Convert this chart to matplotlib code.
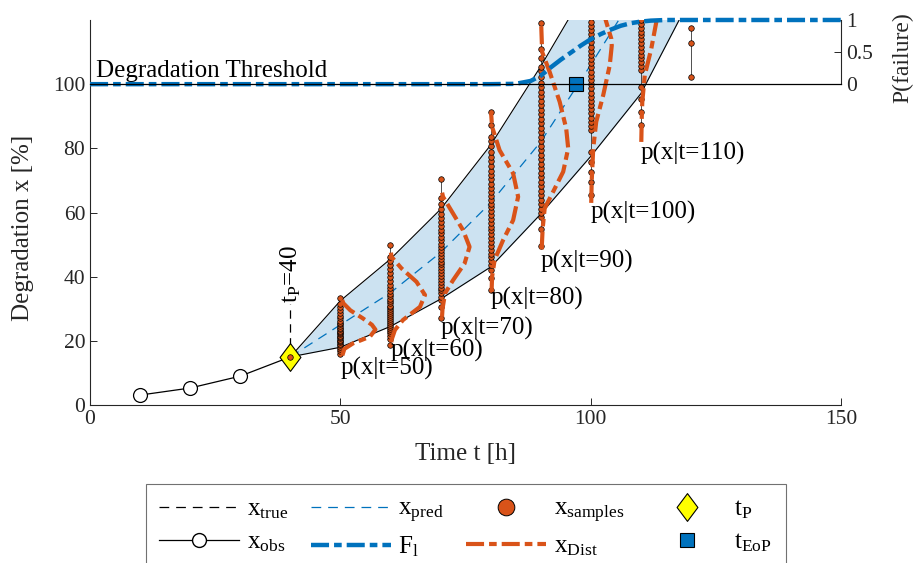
import matplotlib
matplotlib.use("Agg")
import matplotlib.pyplot as plt
from matplotlib.lines import Line2D
from matplotlib.path import Path

plt.rcParams['font.family'] = ['Liberation Serif', 'DejaVu Serif']
plt.rcParams['mathtext.fontset'] = 'custom'
plt.rcParams['mathtext.rm'] = 'Liberation Serif'
plt.rcParams['mathtext.it'] = 'Liberation Serif:italic'
plt.rcParams['font.size'] = 18
plt.rcParams['lines.scale_dashes'] = False

BLUE = '#0072BD'
ORANGE = '#D95319'
AXC = '0.15'
FS = 18      # text size for labels and annotations
TFS = 15.5   # tick label size

# observed degradation up to the prediction time
t_obs = [10, 20, 30, 40]
x_obs = [3.1, 5.3, 9.0, 15.0]
t_p = 40

# prediction band and mean prediction
t_band = [40, 50, 60, 70, 80, 90, 100, 110, 120]
x_upper = [15.0, 32.5, 45.5, 61.0, 81.0, 105.5, 132.0, 158.0, 185.0]
x_lower = [15.0, 18.0, 24.5, 33.0, 43.0, 59.5, 77.5, 97.0, 127.0]
t_pred = [40, 50, 60, 70, 80, 90, 100, 110]
x_pred = [15.0, 25.0, 35.0, 47.5, 63.0, 82.0, 106.0, 131.0]

# end of prediction (threshold crossing)
t_eop = 97
threshold = 100

# Monte Carlo samples at each prediction time
samples = {
    50: [16.0, 16.8, 17.5, 18.1, 18.6, 19.1, 19.6, 20.0, 20.4, 20.8, 21.2, 21.6,
         22.0, 22.4, 22.8, 23.2, 23.6, 24.1, 24.6, 25.1, 25.7, 26.3, 27.0, 27.8,
         28.6, 29.5, 30.5, 31.6, 33.3],
    60: [18.7, 20.5, 21.4, 22.4, 23.1, 23.8, 24.4, 25.0, 25.6, 26.2, 26.8, 27.4,
         28.0, 28.6, 29.2, 29.8, 30.4, 31.0, 31.7, 32.4, 33.1, 33.9, 34.7, 35.6,
         36.5, 37.5, 38.6, 39.8, 41.0, 42.3, 43.6, 45.0, 46.2, 49.8],
    70: [27.0, 30.5, 32.7, 33.8, 34.8, 35.7, 36.6, 37.5, 38.4, 39.3, 40.2, 41.1,
         42.0, 42.9, 43.8, 44.7, 45.6, 46.5, 47.4, 48.3, 49.3, 50.3, 51.3, 52.4,
         53.5, 54.6, 55.8, 57.0, 58.3, 59.6, 61.0, 62.6, 64.4, 70.3],
    80: [35.8, 39.5, 42.0, 43.5, 44.8, 46.0, 47.2, 48.4, 49.6, 50.8, 52.0, 53.2,
         54.4, 55.6, 56.8, 58.0, 59.2, 60.4, 61.6, 62.8, 64.0, 65.2, 66.4, 67.7,
         69.0, 70.3, 71.6, 73.0, 74.4, 75.9, 77.4, 79.0, 80.6, 82.2, 83.6, 87.2, 91.4],
    90: [49.5, 55.0, 58.5, 59.8, 61.2, 62.6, 64.0, 65.4, 66.8, 68.2, 69.6, 71.0,
         72.4, 73.8, 75.2, 76.6, 78.0, 79.4, 80.8, 82.2, 83.6, 85.0, 86.4, 87.8,
         89.2, 90.6, 92.0, 93.4, 94.8, 96.2, 97.6, 99.0, 100.3, 102.3, 104.0, 105.4,
         108.0, 111.0, 119.2],
    100: [65.4, 69.6, 72.7, 75.8, 78.9, 85.7, 87.0, 88.3, 89.6, 90.9, 92.2, 93.5,
          94.8, 96.1, 97.4, 98.7, 100.0, 101.3, 102.6, 103.9, 105.2, 106.5, 107.8,
          109.1, 110.4, 111.7, 113.0, 114.3, 115.6, 116.9, 118.2, 119.5],
    110: [87.2, 91.4, 95.5, 99.2, 104.4, 105.6, 106.8, 108.0, 109.2, 110.4, 111.6,
          112.8, 114.0, 115.2, 116.4, 117.6, 118.8, 120.0],
    120: [102.2, 112.8, 117.4],
}

# fitted sample densities, drawn sideways next to each sample column
dist_t = {
    50: [50.4, 50.8, 52.5, 55.9, 57.0, 56.3, 54.5, 52.0, 50.6, 50.3],
    60: [60.2, 60.2, 60.9, 62.5, 65.9, 66.9, 65.2, 62.2, 60.2, 60.1],
    70: [70.3, 70.4, 70.9, 72.5, 74.8, 75.8, 74.5, 72.5, 70.5, 70.2],
    80: [80.2, 80.3, 80.8, 82.5, 84.5, 85.5, 84.5, 81.8, 80.3, 80.1],
    90: [90.2, 90.4, 90.8, 92.5, 94.5, 95.5, 95.1, 93.8, 91.8, 90.3, 90.1],
    100: [100.1, 100.2, 100.5, 101.1, 102.5, 103.8, 104.2, 104.1, 103.1, 102.8],
    110: [110.1, 110.2, 110.3, 110.8, 112.1, 113.1, 113.3],
}
dist_x = {
    50: [15.5, 17.5, 19.2, 21.3, 23.5, 25.0, 27.0, 29.5, 31.7, 33.0],
    60: [19.5, 20.2, 23.4, 26.5, 30.6, 34.3, 38.4, 42.6, 46.2, 47.5],
    70: [27.5, 30.0, 34.8, 38.9, 44.1, 49.3, 54.5, 59.7, 64.9, 67.0],
    80: [35.5, 40.0, 45.2, 51.4, 57.6, 64.9, 72.2, 79.4, 86.7, 91.0],
    90: [48.5, 55.0, 61.3, 66.5, 72.7, 80.0, 86.2, 94.5, 103.8, 110.0, 119.0],
    100: [63.0, 70.0, 80.0, 88.3, 96.6, 105.9, 112.0, 114.2, 119.4, 121.0],
    110: [82.0, 90.0, 94.5, 102.8, 111.1, 119.4, 121.0],
}
dist_labels = {50: 11.5, 60: 17.0, 70: 24.0, 80: 33.3, 90: 44.8, 100: 60.0, 110: 78.5}

# failure probability (fraction of trajectories above threshold)
t_fail = [0, 80, 85, 88, 90, 92, 94, 96, 98, 100, 102, 104, 106, 108, 110, 112, 115, 150]
p_fail = [0, 0, 0.005, 0.05, 0.13, 0.26, 0.38, 0.49, 0.60, 0.70, 0.78, 0.85, 0.91,
          0.95, 0.975, 0.99, 1.0, 1.0]

fig = plt.figure(figsize=(9.15, 5.63), dpi=100)
L, B, W, H = 0.0984, 0.2806, 0.8208, 0.6839
ax = fig.add_axes([L, B, W, H])
ymax = 120

dashdot = (0, (13, 3.6, 5.5, 3.6))
dashed = (0, (7, 5))

ax.fill_between(t_band, x_lower, x_upper, color=BLUE, alpha=0.2, lw=0, zorder=1)
ax.plot(t_band, x_upper, color='k', lw=0.8, zorder=2)
ax.plot(t_band, x_lower, color='k', lw=0.8, zorder=2)
ax.plot(t_pred, x_pred, color=BLUE, lw=0.9, linestyle=dashed, zorder=2)

for t, vals in samples.items():
    ax.plot([t, t], [min(vals), max(vals)], color='0.2', lw=0.6, zorder=3)
    ax.plot([t] * len(vals), vals, 'o', ms=4.0, mfc=ORANGE, mec='k', mew=0.5, zorder=3)
ax.plot([t_p], [x_obs[-1]], 'o', ms=4.0, mfc=ORANGE, mec='k', mew=0.5, zorder=6)

for t in dist_t:
    ax.plot(dist_t[t], dist_x[t], color=ORANGE, lw=3, linestyle=dashdot, zorder=4)
    ax.text(t, dist_labels[t], 'p(x|t=%d)' % t, ha='left', va='center', fontsize=FS)

ax.plot(t_obs, x_obs, '-o', color='k', lw=0.9, ms=10, mfc='white', mec='k', mew=0.9, zorder=4)

diamond = Path([(0, 1), (0.75, 0), (0, -1), (-0.75, 0), (0, 1)],
               [Path.MOVETO, Path.LINETO, Path.LINETO, Path.LINETO, Path.CLOSEPOLY])
ax.plot([t_p], [x_obs[-1]], marker=diamond, ms=20, mfc='#FFFF00', mec='k', mew=0.8,
        linestyle='none', zorder=5)
ax.plot([t_p, t_p], [18.5, 31.5], color='k', lw=0.9, linestyle=(0, (6, 4)), zorder=4)
ax.text(t_p, 31.8, r't$_\mathrm{P}$=40', rotation=90, ha='center', va='bottom', fontsize=FS)

ax.plot([t_eop], [threshold], 's', ms=10, mfc=BLUE, mec='k', mew=0.8, zorder=6)
ax.text(1.2, threshold + 0.6, 'Degradation Threshold', ha='left', va='bottom', fontsize=FS)

ax.set_xlim(0, 150)
ax.set_ylim(0, ymax)
ax.set_xticks([0, 50, 100, 150])
ax.set_yticks([0, 20, 40, 60, 80, 100])
ax.set_xlabel('Time t [h]', fontsize=FS, color=AXC, labelpad=10)
ax.set_ylabel('Degradation x [%]', fontsize=FS, color=AXC)
ax.yaxis.set_label_coords(-0.075, 0.46)
ax.spines['top'].set_visible(False)
ax.spines['right'].set_visible(False)
for s in ('left', 'bottom'):
    ax.spines[s].set_color(AXC)
    ax.spines[s].set_linewidth(0.8)
ax.tick_params(direction='in', length=5, width=0.7, colors=AXC, labelsize=TFS)
ax.patch.set_visible(False)

# failure probability axis sits on top of the threshold line
b2 = B + H * threshold / ymax
ax2 = fig.add_axes([L, b2, W, B + H - b2])
ax2.patch.set_visible(False)
ax2.plot(t_fail, p_fail, color=BLUE, lw=3.2, linestyle=dashdot, clip_on=False)
ax2.set_xlim(0, 150)
ax2.set_ylim(0, 1)
ax2.set_xticks([])
ax2.yaxis.tick_right()
ax2.yaxis.set_label_position('right')
ax2.set_yticks([0, 0.5, 1])
ax2.set_yticklabels(['0', '0.5', '1'])
ax2.set_ylabel('P(failure)', fontsize=17, color=AXC)
ax2.yaxis.set_label_coords(1.068, 0.42)
ax2.spines['top'].set_visible(False)
ax2.spines['left'].set_visible(False)
ax2.spines['bottom'].set_color('k')
ax2.spines['bottom'].set_linewidth(0.9)
ax2.spines['right'].set_color(AXC)
ax2.spines['right'].set_linewidth(0.8)
ax2.tick_params(direction='in', length=5, width=0.7, colors=AXC, labelsize=TFS)

handles = [
    Line2D([], [], color='k', lw=0.9, linestyle=dashed),
    Line2D([], [], color='k', lw=0.9, marker='o', ms=10, mfc='white', mec='k'),
    Line2D([], [], color=BLUE, lw=0.9, linestyle=dashed),
    Line2D([], [], color=BLUE, lw=3.2, linestyle=dashdot),
    Line2D([], [], linestyle='none', marker='o', ms=12, mfc=ORANGE, mec='k', mew=0.7),
    Line2D([], [], color=ORANGE, lw=3, linestyle=dashdot),
    Line2D([], [], linestyle='none', marker=diamond, ms=20, mfc='#FFFF00', mec='k', mew=0.8),
    Line2D([], [], linestyle='none', marker='s', ms=10, mfc=BLUE, mec='k', mew=0.8),
]
labels = [r'x$_\mathrm{true}$', r'x$_\mathrm{obs}$', r'x$_\mathrm{pred}$', r'F$_\mathrm{l}$',
          r'x$_\mathrm{samples}$', r'x$_\mathrm{Dist}$', r't$_\mathrm{P}$', r't$_\mathrm{EoP}$']
leg = fig.legend(handles, labels, loc='upper center', bbox_to_anchor=(0.509, 0.1403),
                 ncol=4, fontsize=FS, frameon=True, fancybox=False, handlelength=3.2,
                 columnspacing=0.9, handletextpad=0.3, borderpad=0.55, labelspacing=0.4,
                 borderaxespad=0)
leg.get_frame().set_edgecolor('0.3')
leg.get_frame().set_linewidth(0.8)

fig.savefig('out.png', dpi=100)
